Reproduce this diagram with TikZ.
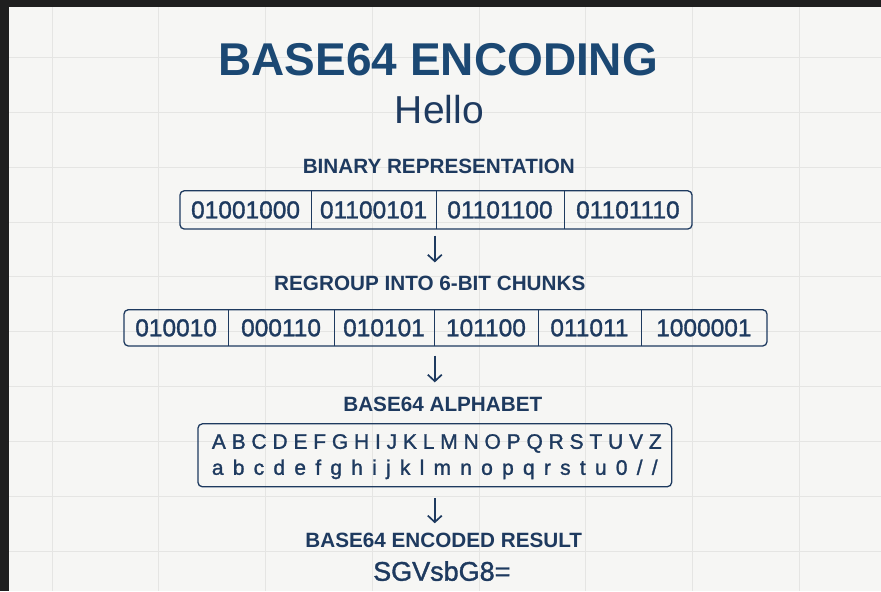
\documentclass[tikz,border=0pt]{standalone}
\usepackage{fontspec}
\setmainfont{Liberation Sans}
\newfontfamily\medfont{Liberation Sans}[BoldFont=Liberation Sans, BoldFeatures={FakeBold=1.3}]
\usepackage{xcolor}
\usepackage{tikz}
\usetikzlibrary{positioning, arrows.meta, fit, backgrounds}
\definecolor{b64navy}{RGB}{30, 58, 95}
\definecolor{b64title}{RGB}{27, 72, 115}
\definecolor{b64paper}{RGB}{246, 246, 244}
\definecolor{b64grid}{RGB}{229, 229, 227}
\definecolor{b64frame}{RGB}{31, 31, 31}

\begin{document}
\begin{tikzpicture}[
  x=1pt, y=-1pt,
  heading/.style={text=b64navy, anchor=base, font=\fontsize{20.7}{24}\selectfont\bfseries},
  cell/.style={text=b64navy, anchor=west, inner sep=0pt, minimum height=38pt,
    font=\fontsize{24.5}{28}\selectfont\medfont\bfseries},
  row/.style={draw=b64navy, line width=1.3pt, rounded corners=4.5pt, inner sep=0pt},
  divider/.style={draw=b64navy, line width=1.2pt},
  letters/.style={text=b64navy, anchor=base, inner sep=0pt,
    font=\fontsize{21}{26}\selectfont\medfont\bfseries},
  flow/.style={-{Straight Barb[length=6.5pt, width=14pt]}, line width=1.7pt, draw=b64navy}
]
  % paper, grid and dark frame
  \fill[b64paper] (0,0) rectangle (881,591);
  \foreach \gx in {52,158.8,265.6,372.4,479.2,586,692.8,799.6}
    \draw[b64grid, line width=0.8pt] (\gx,7) -- (\gx,591);
  \foreach \gy in {57,112,167,222,277,332,387,442,497,552}
    \draw[b64grid, line width=0.8pt] (9,\gy) -- (881,\gy);
  \fill[b64frame] (0,0) rectangle (881,7);
  \fill[b64frame] (0,0) rectangle (9,591);
  \coordinate (spine) at (435,0);

  \node[text=b64title, anchor=base, font=\fontsize{46}{50}\selectfont\bfseries] (title)
    at (438.5,75.5) {BASE64 ENCODING};
  \node[text=b64navy, anchor=base, font=\fontsize{39}{44}\selectfont] (word)
    at (439.5,124) {Hello};

  % binary representation
  \node[heading] (binhead) at (439,174) {BINARY REPRESENTATION};
  \node[cell, minimum width=131pt] (b1) at (180,210) {01001000};
  \node[cell, minimum width=125pt] (b2) at (311,210) {01100101};
  \node[cell, minimum width=128pt] (b3) at (436,210) {01101100};
  \node[cell, minimum width=128pt] (b4) at (564,210) {01101110};
  \node[row, fit=(b1)(b4)] (binrow) {};
  \draw[divider] (b1.north east) -- (b1.south east);
  \draw[divider] (b2.north east) -- (b2.south east);
  \draw[divider] (b3.north east) -- (b3.south east);

  % 6-bit chunks
  \node[heading] (chunkhead) at (430,291) {REGROUP INTO 6-BIT CHUNKS};
  \node[cell, minimum width=104pt, minimum height=36pt] (c1) at (124,328) {010010};
  \node[cell, minimum width=106pt, minimum height=36pt] (c2) at (228,328) {000110};
  \node[cell, minimum width=100pt, minimum height=36pt] (c3) at (334,328) {010101};
  \node[cell, minimum width=104pt, minimum height=36pt] (c4) at (434,328) {101100};
  \node[cell, minimum width=103pt, minimum height=36pt] (c5) at (538,328) {011011};
  \node[cell, minimum width=126pt, minimum height=36pt] (c6) at (641,328) {1000001};
  \node[row, fit=(c1)(c6)] (chunkrow) {};
  \draw[divider] (c1.north east) -- (c1.south east);
  \draw[divider] (c2.north east) -- (c2.south east);
  \draw[divider] (c3.north east) -- (c3.south east);
  \draw[divider] (c4.north east) -- (c4.south east);
  \draw[divider] (c5.north east) -- (c5.south east);

  % alphabet
  \node[heading] (alphahead) at (443,412) {BASE64 ALPHABET};
  \node[row, minimum width=474pt, minimum height=63pt] (alphabox) at (435,455.5) {};
  \node[letters] (upper) at (437,449)
    {\makebox[450pt][s]{A B C D E F G H I J K L M N O P Q R S T U V Z}};
  \node[letters] (lower) at (435,475)
    {\makebox[446pt][s]{a b c d e f g h i j k l m n o p q r s t u 0 / /}};

  % result
  \node[heading] (resulthead) at (444,548) {BASE64 ENCODED RESULT};
  \node[text=b64navy, anchor=base, font=\fontsize{27}{30}\selectfont\medfont\bfseries] (result)
    at (442,581) {SGVsbG8=};

  \draw[flow, shorten <=6pt, shorten >=10.5pt]
    (binrow.south -| spine) -- (chunkhead.north -| spine);
  \draw[flow, shorten <=9pt, shorten >=11.5pt]
    (chunkrow.south -| spine) -- (alphahead.north -| spine);
  \draw[flow, shorten <=11pt, shorten >=6.5pt]
    (alphabox.south -| spine) -- (resulthead.north -| spine);
\end{tikzpicture}
\end{document}
